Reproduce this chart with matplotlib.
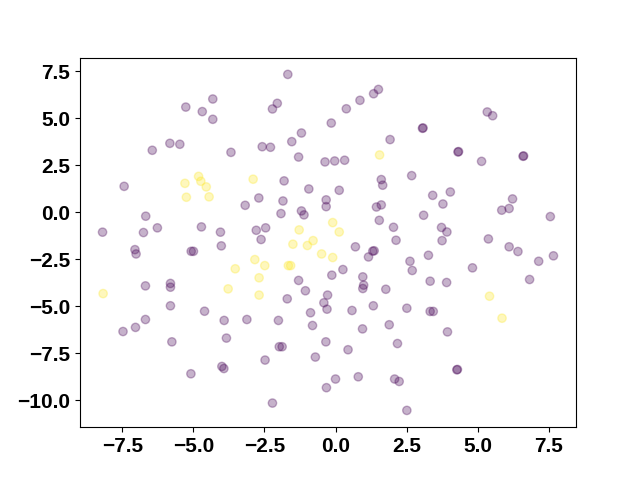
import matplotlib.pyplot as plt
import numpy as np

# class 0 points (purple)
x0 = [-1.68, -4.32, -5.27, -4.69, -4.32, -2.05, -2.22, -0.15, -1.20, -1.54,
      -6.45, -5.83, -5.48, -3.68, -2.58, -2.29, -1.30, -0.37, -7.44, -1.81,
      -0.94, -2.70, -3.18, -1.85, -1.92, -1.20, -1.11, -0.33, -0.33, -6.68,
      -6.27, -6.76, -8.20, -4.72, -4.05, -2.79, -2.46, -2.62, -7.06, -7.02,
      -5.08, -5.00, -4.02, -0.13, -1.30, -1.06, -1.70, -0.28, -0.41, -0.30,
      -0.88, -0.81, -0.34, -0.71, -0.32, -6.69, -5.81, -5.81, -5.81, -6.69,
      -7.04, -7.48, -5.76, -4.61, -3.92, -3.12, -2.01, -3.84, -1.98, -1.88,
      -2.48, -4.00, -3.93, -5.09, -2.22, 1.51, 1.34, 0.86, 0.38, 5.34,
      5.53, 3.06, 3.08, 1.92, 4.31, 4.33, 5.14, 6.60, 6.62, -0.03,
      0.32, 2.68, 1.61, 1.66, 0.13, 3.42, 4.04, 3.78, 1.44, 1.61,
      3.10, 1.54, 2.04, 3.73, 3.92, 3.75, 2.13, 6.23, 6.11, 5.85,
      7.56, 5.38, 0.70, 1.31, 1.36, 1.16, 6.11, 6.42, 0.26, 0.96,
      0.99, 0.96, 1.77, 2.62, 2.70, 3.27, 3.33, 3.91, 4.82, 7.15,
      7.67, 6.83, 0.58, 1.33, 2.51, 3.33, 3.44, 1.89, 0.95, 3.94,
      0.44, 2.18, 4.27, 4.29, 0.00, 0.80, 2.08, 2.24, 2.51]
y0 = [7.34, 6.03, 5.60, 5.36, 4.95, 5.80, 5.50, 4.75, 4.22, 3.76,
      3.30, 3.67, 3.62, 3.19, 3.49, 3.46, 2.94, 2.68, 1.38, 1.67,
      1.24, 0.76, 0.37, 0.60, -0.07, 0.07, -0.14, 0.66, 0.30, -0.21,
      -0.83, -1.08, -1.06, -0.78, -1.06, -0.96, -0.83, -1.45, -1.99, -2.22,
      -2.08, -2.08, -1.79, -3.35, -3.63, -4.18, -4.61, -4.41, -4.82, -5.16,
      -5.35, -6.03, -6.90, -7.71, -9.34, -3.92, -3.79, -3.99, -4.98, -5.71,
      -6.13, -6.35, -6.90, -5.27, -5.76, -5.71, -5.76, -6.70, -7.16, -7.16,
      -7.87, -8.21, -8.32, -8.60, -10.16, 6.54, 6.31, 5.96, 5.51, 5.34,
      5.14, 4.47, 4.49, 3.87, 3.21, 3.23, 2.71, 2.98, 3.00, 2.73,
      2.77, 1.95, 1.74, 1.44, 1.17, 0.90, 1.08, 0.44, 0.28, 0.39,
      -0.16, -0.43, -0.80, -0.81, -1.05, -1.51, -1.49, 0.71, 0.20, 0.11,
      -0.23, -1.42, -1.84, -2.07, -2.05, -2.38, -1.84, -2.09, -3.05, -3.44,
      -3.88, -4.06, -4.10, -2.61, -3.10, -2.29, -3.67, -3.74, -2.96, -2.61,
      -2.32, -3.58, -5.23, -4.98, -5.11, -5.28, -5.28, -5.99, -6.21, -6.37,
      -7.32, -6.99, -8.39, -8.37, -8.88, -8.76, -8.88, -9.01, -10.55]

# class 1 points (yellow)
x1 = [-4.82, -4.74, -5.30, -4.55, -5.25, -4.45, -2.90, -1.28, -0.79, -1.50,
      -0.99, -0.49, -0.10, -2.84, -2.49, -3.53, -1.66, -1.58, -2.69, -3.78,
      -2.69, -8.18, -0.10, 0.13, 1.55, 5.42, 5.86]
y1 = [1.91, 1.65, 1.54, 1.35, 0.80, 0.82, 1.76, -0.94, -1.51, -1.70,
      -1.77, -2.22, -2.41, -2.52, -2.84, -3.01, -2.84, -2.84, -3.49, -4.08,
      -4.41, -4.33, -0.55, -1.05, 3.05, -4.47, -5.64]

x = np.array(x0 + x1)
y = np.array(y0 + y1)
labels = np.array([0] * len(x0) + [1] * len(x1))

plt.rcParams['font.family'] = ['Liberation Sans', 'DejaVu Sans']
plt.rcParams['font.weight'] = 'bold'
plt.rcParams['font.size'] = 15

fig, ax = plt.subplots(figsize=(6.4, 4.8), dpi=100)
ax.scatter(x, y, c=labels, cmap='viridis', alpha=0.3)
ax.set_xticks([-7.5, -5.0, -2.5, 0.0, 2.5, 5.0, 7.5])
ax.set_yticks([-10.0, -7.5, -5.0, -2.5, 0.0, 2.5, 5.0, 7.5])

plt.savefig('out.png')
